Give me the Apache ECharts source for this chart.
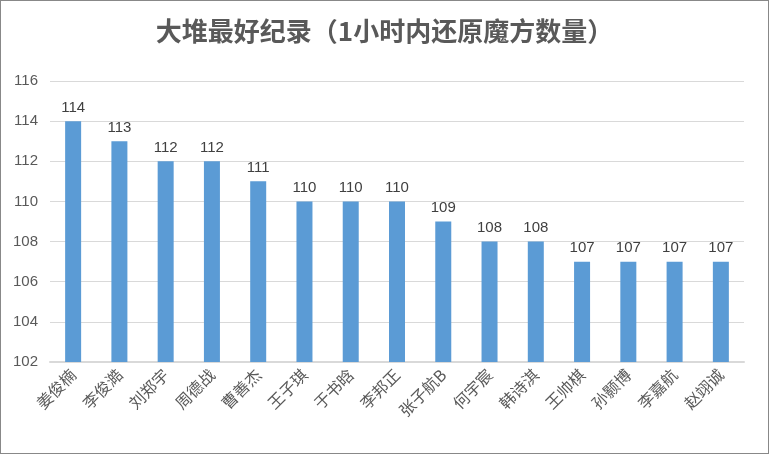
<!DOCTYPE html><html><head><meta charset="utf-8"><script src="https://cdn.jsdelivr.net/npm/echarts@6/dist/echarts.min.js"></script>
<style>body{margin:0}#c{width:767px;height:452px;border:1px solid #888}</style></head><body><div id="c"></div><script>
const categories=['姜俊楠','李俊澔','刘郑宇','周德战','曹善杰','王子琪','于书晗','李邦正','张子航B','何宇宸','韩诗淇','王帅棋','孙颢博','李嘉航','赵翊诚'];
const values=[114,113,112,112,111,110,110,110,109,108,108,107,107,107,107];
const c=echarts.init(document.getElementById('c'));
c.setOption({
title:{text:'大堆最好纪录（1小时内还原魔方数量）',left:'center',top:12,textStyle:{fontFamily:'Noto Sans CJK SC',fontSize:26,fontWeight:'bold',color:'#595959'}},
grid:{left:49,right:24,top:80,bottom:91},
xAxis:{type:'category',data:categories,axisTick:{show:false},axisLine:{lineStyle:{color:'#d9d9d9',width:2}},
 axisLabel:{rotate:45,interval:0,fontSize:16,color:'#595959',fontFamily:'Noto Sans CJK SC',margin:10}},
yAxis:{type:'value',min:102,max:116,interval:2,axisLabel:{fontSize:15,color:'#595959',margin:12},splitLine:{lineStyle:{color:'#d9d9d9'}}},
series:[{type:'bar',data:values,barWidth:16,itemStyle:{color:'#5b9bd5'},label:{show:true,position:'top',fontSize:15,color:'#404040',distance:6}}]
});
</script></body></html>
